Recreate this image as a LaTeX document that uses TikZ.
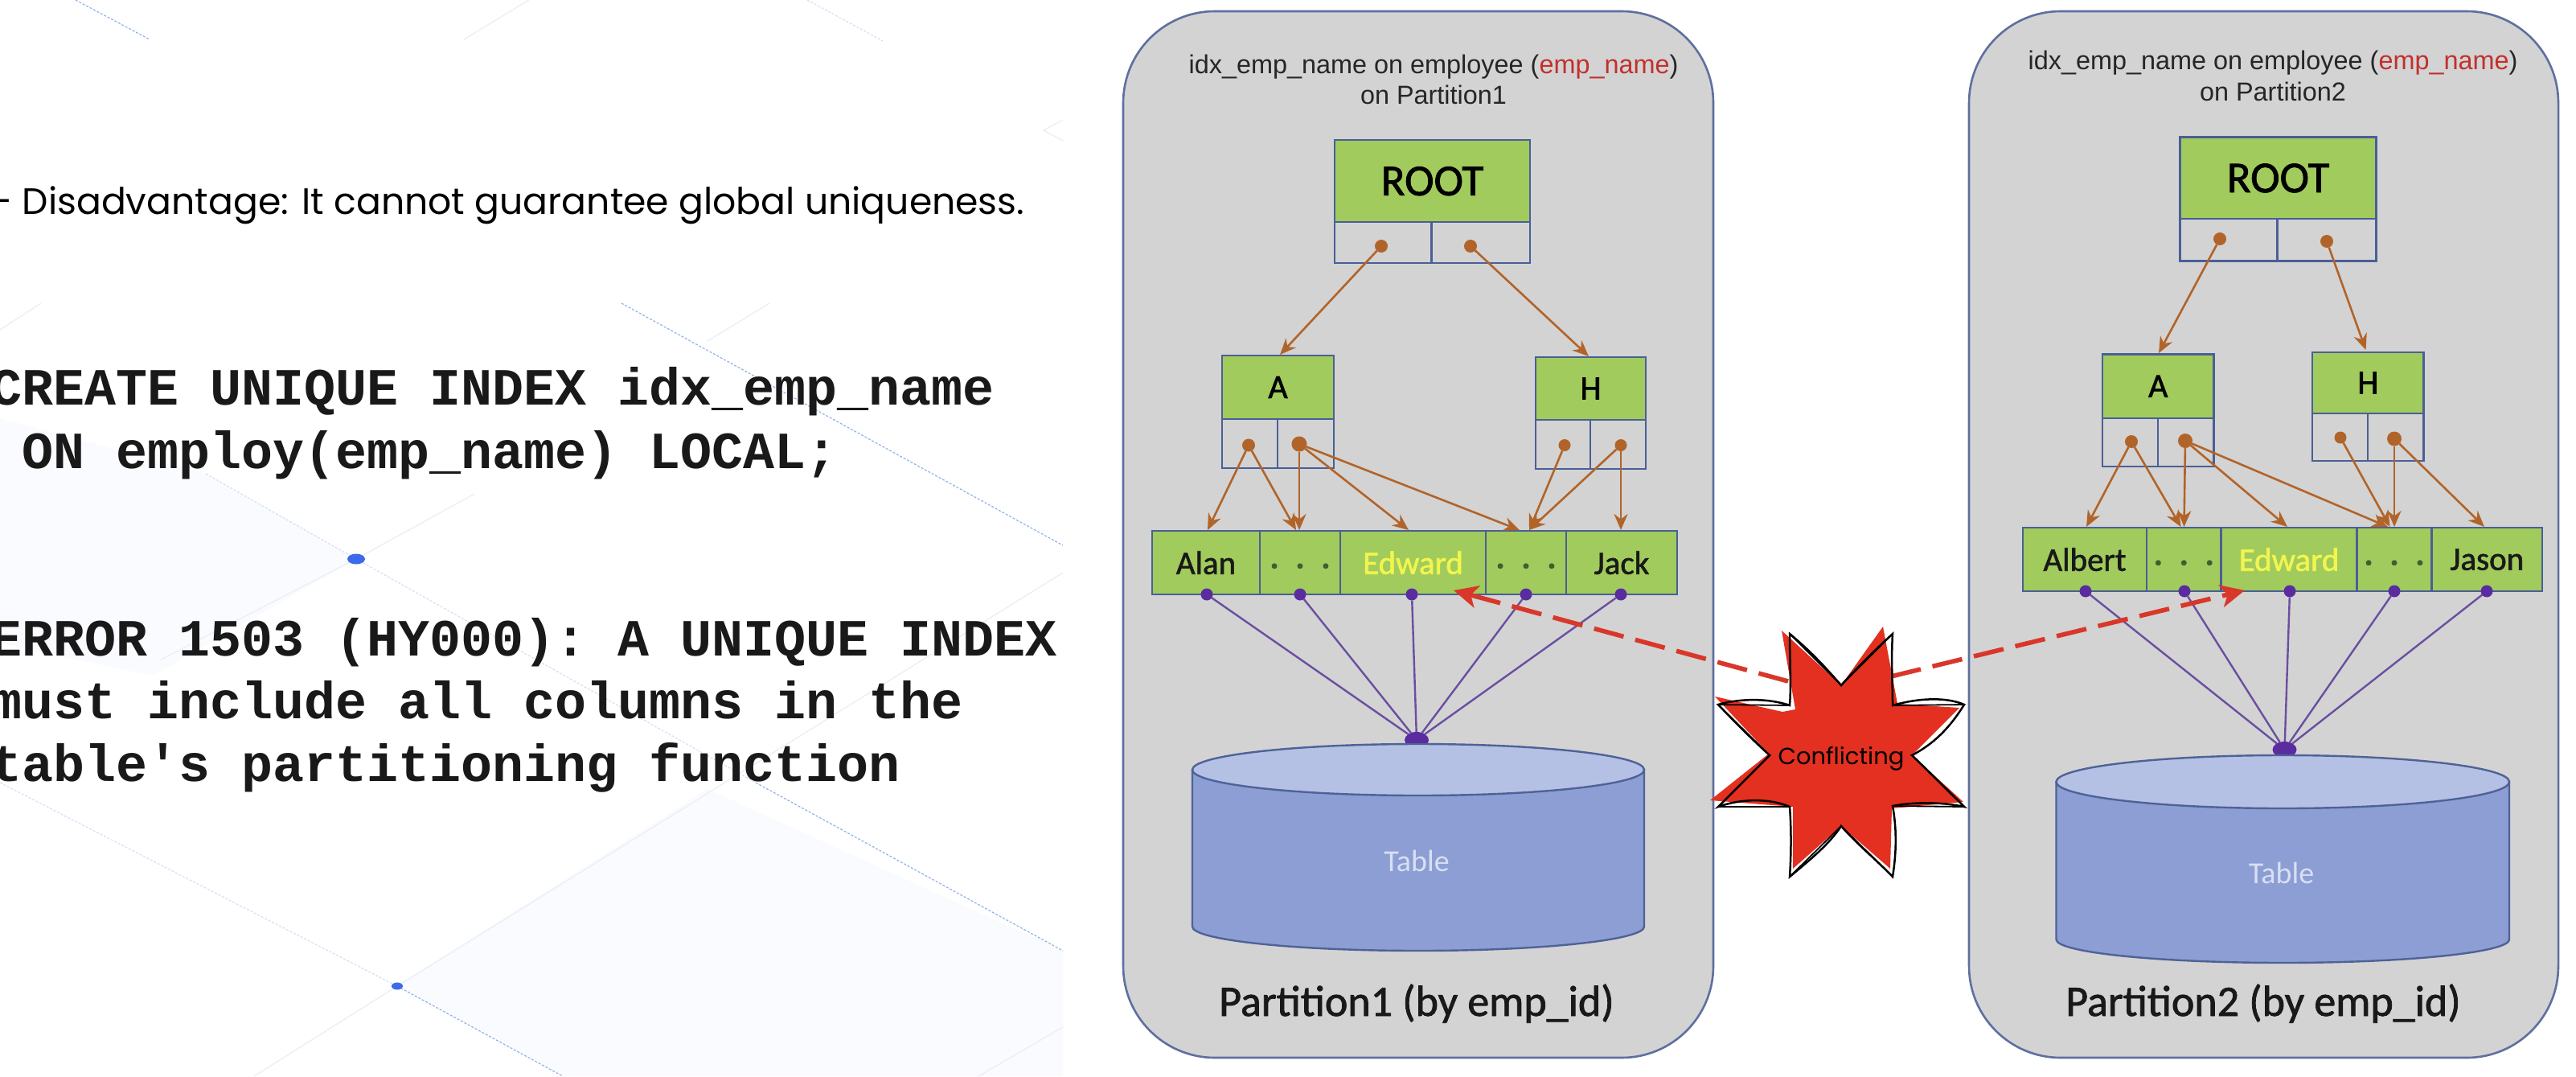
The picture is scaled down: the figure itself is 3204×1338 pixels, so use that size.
\documentclass[tikz,border=0pt]{standalone}
\usepackage{fontspec}
\setmainfont{Carlito}
\newfontfamily\medf{Carlito}[FakeBold=1.4]
\newfontfamily\arialf{Liberation Sans}
\newfontfamily\monof{Liberation Mono}[BoldFont={Liberation Mono Bold}]
\newfontfamily\handf{Poppins}
\usetikzlibrary{arrows.meta,shapes.geometric}
\definecolor{panelfill}{HTML}{D3D3D3}
\definecolor{panelline}{HTML}{5F6F9F}
\definecolor{boxline}{HTML}{4A5F96}
\definecolor{leafgreen}{HTML}{A1CB5C}
\definecolor{brown1}{HTML}{B1642A}
\definecolor{purple1}{HTML}{6A4FA0}
\definecolor{purple2}{HTML}{5A2CA0}
\definecolor{cyltop}{HTML}{B4C1E4}
\definecolor{cylbody}{HTML}{8C9ED4}
\definecolor{cylline}{HTML}{4F6297}
\definecolor{starred}{HTML}{E33020}
\definecolor{dashred}{HTML}{D9372A}
\definecolor{namered}{HTML}{C2302C}
\definecolor{edyellow}{HTML}{F2F54E}
\definecolor{tabletext}{HTML}{D8DFF2}
\definecolor{dotgreen}{HTML}{3F5F30}
\definecolor{gridblue}{HTML}{8FB4E8}
\definecolor{gridfaint}{HTML}{E8EEF7}
\definecolor{blueDot}{HTML}{3B6BE8}
\definecolor{tint}{HTML}{FAFBFE}
\newcommand{\bx}[7]{%
  \pgfmathsetmacro\ww{(#4-#2)*0.5}\pgfmathsetmacro\hh{(#5-#3)*0.5}%
  \node[#6,minimum width=\ww pt,minimum height=\hh pt] (#1) at ({(#2+#4)/2},{(#3+#5)/2}) {#7};}
\newcommand{\threedots}{\raisebox{-3.5pt}{\textcolor{dotgreen}{\textbf{.}\hspace{10.5pt}\textbf{.}\hspace{10.5pt}\textbf{.}}}}
\tikzset{
  x=0.5pt,y=-0.5pt,
  panel/.style={draw=panelline,fill=panelfill,line width=1.3pt,rounded corners=57pt,inner sep=0pt,outer sep=0pt},
  greenbox/.style={draw=boxline,fill=leafgreen,line width=1.3pt,inner sep=0pt,outer sep=0pt,text depth=0pt},
  slotbox/.style={draw=boxline,fill=panelfill,line width=1.3pt,inner sep=0pt,outer sep=0pt},
  roottext/.style={font=\medf\fontsize{27.5}{27.5}\selectfont,text=black},
  midtext/.style={font=\medf\fontsize{21}{21}\selectfont,text=black},
  leaftext/.style={font=\medf\fontsize{20.5}{20.5}\selectfont,text=black!90},
  edtext/.style={font=\medf\fontsize{20.5}{20.5}\selectfont,text=edyellow},
  browndot/.style={circle,fill=brown1,draw=none,minimum size=8pt,inner sep=0pt,outer sep=0pt},
  purpledot/.style={circle,fill=purple2,draw=none,minimum size=7.5pt,inner sep=0pt,outer sep=0pt},
  hubdot/.style={ellipse,fill=purple2,draw=none,minimum width=15pt,minimum height=10pt,inner sep=0pt,outer sep=0pt},
  ptr/.style={draw=brown1,line width=1.3pt,-{Stealth[length=10pt,width=8.5pt]}},
  leg/.style={draw=purple1,line width=1.2pt},
  cyl/.style={draw=cylline,line width=1.2pt},
  title/.style={font=\arialf\fontsize{16.2}{16.2}\selectfont,text=black!85,anchor=base,inner sep=0pt},
  ptitle/.style={font=\medf\fontsize{27}{27}\selectfont,text=black!90,anchor=base,inner sep=0pt},
  tabtext/.style={font=\fontsize{19}{19}\selectfont,text=tabletext,anchor=base,inner sep=0pt},
  code/.style={font=\monof\bfseries\fontsize{32.5}{32.5}\selectfont\frenchspacing,text=black!90,anchor=base west,inner sep=0pt},
  conflict/.style={draw=dashred,line width=2.8pt,dash pattern=on 19pt off 7.5pt,-{Stealth[length=15pt,width=14pt,inset=4pt,fill=dashred]}},
  griddot/.style={draw=gridblue,line width=0.6pt,dash pattern=on 1.5pt off 1pt},
  gridline/.style={draw=gridfaint,line width=0.6pt},
  bluedot/.style={ellipse,fill=blueDot,draw=none,inner sep=0pt,outer sep=0pt},
  sketch/.style={draw=black,line width=1.25pt,line join=miter},
}
\begin{document}
\begin{tikzpicture}
\useasboundingbox (0,0) rectangle (3204,1338);
\clip (0,0) rectangle (3204,1338);
\fill[white] (0,0) rectangle (3204,1338);
% ---------- background of the slide
\fill[tint] (0,520) -- (256,589) -- (443,695) -- (190,840) -- (0,800) -- cycle;
\fill[tint] (494,1226) -- (880,981) -- (1322,1182) -- (1322,1338) -- (700,1338) -- cycle;
\draw[griddot] (94,0) -- (186,49);
\draw[griddot] (773,377) -- (1322,678);
\draw[griddot] (940,973) -- (1322,1182);
\draw[griddot] (494,1226) -- (700,1338);
\draw[griddot,gridblue!40] (1004,0) -- (1098,51);
\draw[griddot,gridblue!40] (256,589) -- (443,695) -- (940,973);
\draw[griddot,gridblue!40] (0,973) -- (494,1226);
\draw[gridline] (577,49) -- (658,0);
\draw[gridline] (0,410) -- (51,377);
\draw[gridline] (880,424) -- (957,377);
\draw[gridline] (200,820) -- (443,695) -- (590,614);
\draw[gridline] (316,1338) -- (494,1226) -- (1322,712);
\draw[gridline] (1217,1338) -- (1322,1277);
\draw[gridline] (1322,149) -- (1298,162) -- (1322,175);
\node[bluedot,minimum width=11pt,minimum height=6.5pt] (dotA) at (443,695) {};
\node[bluedot,minimum width=7pt,minimum height=4.5pt] (dotB) at (494,1226) {};
% ---------- left text
\node[font=\handf\fontsize{22.85}{22.85}\selectfont,anchor=base west,inner sep=0pt,text=black] (disadv) at (-10,266) {- Disadvantage: It cannot guarantee global uniqueness.};
\node[code] (c1) at (-12,503) {CREATE UNIQUE INDEX idx\_emp\_name};
\node[code] (c2) at (-12,582) {\ ON employ(emp\_name) LOCAL;};
\node[code] (c3) at (-12,815) {ERROR 1503 (HY000): A UNIQUE INDEX};
\node[code] (c4) at (-12,893) {must include all columns in the};
\node[code] (c5) at (-12,971) {table's partitioning function};
% ---------- partition 1
\bx{panA}{1397}{14}{2131}{1315}{panel}{}
\node[title] (tA1) at (1783,91.5) {idx\_emp\_name on employee (\textcolor{namered}{emp\_name})};
\node[title] (tA2) at (1783,129.5) {on Partition1};
\bx{rootA}{1660}{174}{1903}{276}{greenbox,roottext}{ROOT}
\bx{rootAl}{1660}{276}{1780.5}{327}{slotbox}{}
\bx{rootAr}{1780.5}{276}{1903}{327}{slotbox}{}
\bx{aA}{1520}{442}{1659}{521}{greenbox,midtext}{A}
\bx{aAl}{1520}{521}{1589}{582}{slotbox}{}
\bx{aAr}{1589}{521}{1659}{582}{slotbox}{}
\bx{hA}{1910}{444}{2047}{522}{greenbox,midtext}{H}
\bx{hAl}{1910}{522}{1978}{583}{slotbox}{}
\bx{hAr}{1978}{522}{2047}{583}{slotbox}{}
\bx{l1A}{1433}{660}{1567}{739}{greenbox,leaftext}{Alan}
\bx{l2A}{1567}{660}{1667}{739}{greenbox,leaftext}{\threedots}
\bx{l3A}{1667}{660}{1848}{739}{greenbox,edtext}{Edward}
\bx{l4A}{1848}{660}{1948}{739}{greenbox,leaftext}{\threedots}
\bx{l5A}{1948}{660}{2086}{739}{greenbox,leaftext}{Jack}
\node[browndot] (d1A) at (1718,306) {};
\node[browndot] (d2A) at (1829,306) {};
\node[browndot] (d3A) at (1553,553.5) {};
\node[browndot,minimum size=9.5pt] (d4A) at (1616,552) {};
\node[browndot,minimum size=7.5pt] (d5A) at (1946,553.5) {};
\node[browndot,minimum size=7.5pt] (d6A) at (2016,553.5) {};
\coordinate (t1A) at (1592,441);
\coordinate (t2A) at (1976,443);
\coordinate (t3A) at (1502,659);
\coordinate (t4A) at (1612,659);
\coordinate (t5A) at (1616,659);
\coordinate (t6A) at (1752,659);
\coordinate (t7A) at (1890,659);
\coordinate (t8A) at (1902,659);
\coordinate (t9A) at (2016,659);
\draw[ptr] (d1A) -- (t1A);
\draw[ptr] (d2A) -- (t2A);
\draw[ptr] (d3A) -- (t3A);
\draw[ptr] (d3A) -- (t4A);
\draw[ptr] (d4A) -- (t5A);
\draw[ptr] (d4A) -- (t6A);
\draw[ptr] (d4A) -- (t7A);
\draw[ptr] (d5A) -- (t8A);
\draw[ptr] (d6A) -- (t8A);
\draw[ptr] (d6A) -- (t9A);
\node[purpledot] (p1A) at (1501,739) {};
\node[purpledot] (p2A) at (1617,739) {};
\node[purpledot] (p3A) at (1756,739) {};
\node[purpledot] (p4A) at (1898,739) {};
\node[purpledot] (p5A) at (2016,739) {};
\node[hubdot] (hubA) at (1762,920) {};
\foreach \p in {p1A,p2A,p3A,p4A,p5A} \draw[leg] (\p) -- (hubA);
% table cylinder
\path[cyl,fill=cylbody] (1483,957) -- (1483,1152) arc[start angle=180,end angle=0,x radius=281,y radius=30] -- (2045,957) -- cycle;
\draw[cyl,fill=cyltop] (1764,957) ellipse[x radius=281,y radius=32];
\node[tabtext] (tabA) at (1762,1083) {Table};
\node[ptitle] (capA) at (1762,1263) {Partition1 (by emp\_id)};
% ---------- partition 2
\bx{panB}{2449}{14}{3182}{1315}{panel}{}
\node[title] (tB1) at (2827,87) {idx\_emp\_name on employee (\textcolor{namered}{emp\_name})};
\node[title] (tB2) at (2827,126) {on Partition2};
\bx{rootB}{2711.5}{170.5}{2955.5}{272}{greenbox,roottext}{ROOT}
\bx{rootBl}{2711.5}{272}{2832.5}{324.5}{slotbox}{}
\bx{rootBr}{2832.5}{272}{2955.5}{324.5}{slotbox}{}
\bx{aB}{2615}{440.5}{2753.5}{520}{greenbox,midtext}{A}
\bx{aBl}{2615}{520}{2684}{580}{slotbox}{}
\bx{aBr}{2684}{520}{2753.5}{580}{slotbox}{}
\bx{hB}{2876}{438}{3014.5}{514}{greenbox,midtext}{H}
\bx{hBl}{2876}{514}{2945}{573}{slotbox}{}
\bx{hBr}{2945}{514}{3014.5}{573}{slotbox}{}
\bx{l1B}{2516}{656}{2670}{735}{greenbox,leaftext}{Albert}
\bx{l2B}{2670}{656}{2762.5}{735}{greenbox,leaftext}{\threedots}
\bx{l3B}{2762.5}{656}{2931.5}{735}{greenbox,edtext}{Edward}
\bx{l4B}{2931.5}{656}{3024.5}{735}{greenbox,leaftext}{\threedots}
\bx{l5B}{3024.5}{656}{3162}{735}{greenbox,leaftext}{Jason}
\node[browndot] (d1B) at (2761,297) {};
\node[browndot] (d2B) at (2894,300) {};
\node[browndot] (d3B) at (2651,549) {};
\node[browndot,minimum size=9pt] (d4B) at (2718,548) {};
\node[browndot,minimum size=7.5pt] (d5B) at (2911,544) {};
\node[browndot,minimum size=9pt] (d6B) at (2978,545.5) {};
\coordinate (t1B) at (2685,439);
\coordinate (t2B) at (2942.5,435);
\coordinate (t3B) at (2595,655);
\coordinate (t4B) at (2712.5,655);
\coordinate (t5B) at (2716.5,655);
\coordinate (t6B) at (2845,655);
\coordinate (t7B) at (2970,655);
\coordinate (t8B) at (2972.5,655);
\coordinate (t9B) at (2978,655);
\coordinate (t10B) at (3090,655);
\draw[ptr] (d1B) -- (t1B);
\draw[ptr] (d2B) -- (t2B);
\draw[ptr] (d3B) -- (t3B);
\draw[ptr] (d3B) -- (t4B);
\draw[ptr] (d4B) -- (t5B);
\draw[ptr] (d4B) -- (t6B);
\draw[ptr] (d4B) -- (t7B);
\draw[ptr] (d5B) -- (t8B);
\draw[ptr] (d6B) -- (t9B);
\draw[ptr] (d6B) -- (t10B);
\node[purpledot] (p1B) at (2594,735) {};
\node[purpledot] (p2B) at (2717,735) {};
\node[purpledot] (p3B) at (2848,735) {};
\node[purpledot] (p4B) at (2978,735) {};
\node[purpledot] (p5B) at (3093,735) {};
\node[hubdot] (hubB) at (2841.5,932) {};
\foreach \p in {p1B,p2B,p3B,p4B,p5B} \draw[leg] (\p) -- (hubB);
\path[cyl,fill=cylbody] (2557.5,972) -- (2557.5,1168) arc[start angle=180,end angle=0,x radius=281.75,y radius=29] -- (3121,972) -- cycle;
\draw[cyl,fill=cyltop] (2839.25,972) ellipse[x radius=281.75,y radius=33];
\node[tabtext] (tabB) at (2837.5,1098) {Table};
\node[ptitle] (capB) at (2815,1263) {Partition2 (by emp\_id)};
% ---------- conflict star
\coordinate (starC) at (2290,943);
\coordinate (tipA) at (1808,734);
\coordinate (tipB) at (2792,734);
\draw[conflict] (2224,847) -- (tipA);
\draw[conflict] (2352,841) -- (tipB);
\fill[starred] (2216,784) -- (2290,852) -- (2342,779) -- (2360,875) -- (2437,880) -- (2378,939) -- (2442,997) -- (2353,1005) -- (2351,1080) -- (2290,1027) -- (2230,1080) -- (2230,1003) -- (2127,995) -- (2200,937) -- (2133,866) -- (2217,885) -- (2233,882) -- cycle;
\draw[sketch] (2226,788) .. controls (2255,812) and (2275,835) .. (2290,852)
  .. controls (2305,835) and (2330,810) .. (2354,788)
  .. controls (2352,820) and (2354,850) .. (2354,877)
  .. controls (2385,868) and (2420,866) .. (2443,876)
  .. controls (2425,905) and (2405,925) .. (2378,939)
  .. controls (2400,960) and (2420,980) .. (2443,1003)
  .. controls (2415,997) and (2380,997) .. (2354,1002)
  .. controls (2360,1035) and (2358,1065) .. (2354,1090)
  .. controls (2335,1070) and (2310,1050) .. (2290,1027)
  .. controls (2275,1050) and (2250,1070) .. (2226,1090)
  .. controls (2228,1060) and (2228,1030) .. (2226,1003)
  .. controls (2200,992) and (2165,993) .. (2137,1003)
  .. controls (2160,980) and (2180,960) .. (2201,939)
  .. controls (2180,920) and (2160,900) .. (2137,876)
  .. controls (2165,868) and (2200,868) .. (2226,877)
  .. controls (2228,850) and (2226,820) .. (2226,788) -- cycle;
\draw[sketch,line width=0.9pt] (2226,788) -- (2290,852) -- (2354,788) (2443,876) -- (2354,877) (2378,939) -- (2443,1003) (2443,1003) -- (2354,1002) (2354,1090) -- (2290,1027) -- (2226,1090) (2137,1003) -- (2226,1003) (2137,1003) -- (2201,939) -- (2137,876) -- (2226,877);
\node[font=\handf\fontsize{14.5}{14.5}\selectfont,inner sep=0pt,text=black] (conf) at (starC) {Conflicting};
\end{tikzpicture}
\end{document}
